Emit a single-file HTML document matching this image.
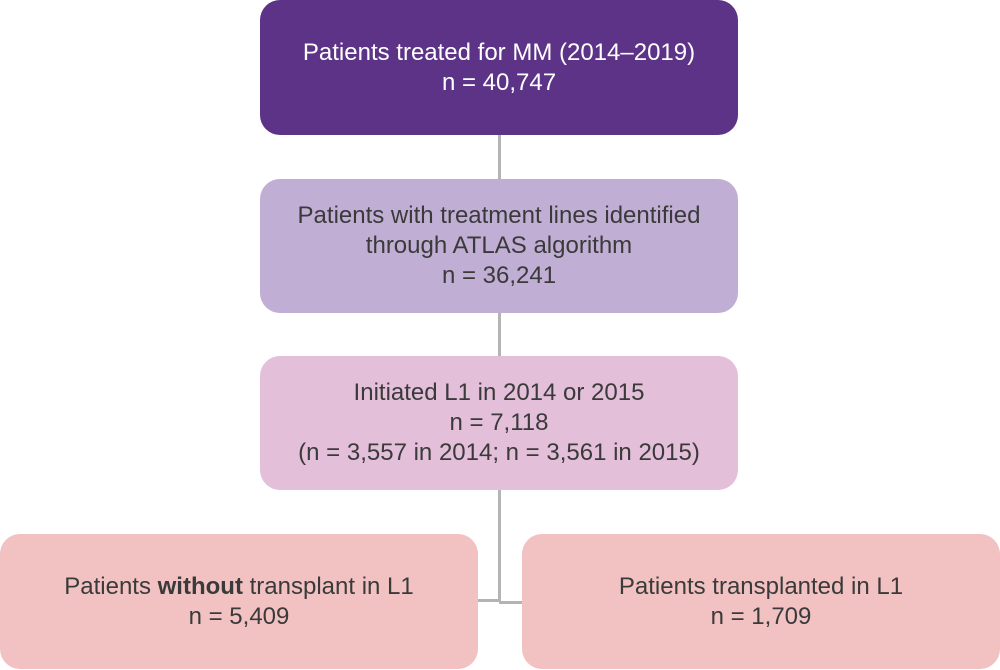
<!DOCTYPE html>
<html><head><style>
body{margin:0;width:1000px;height:670px;background:#fff;position:relative;font-family:"Liberation Sans",sans-serif;overflow:hidden}
.b{position:absolute;border-radius:20px;display:flex;align-items:center;justify-content:center;text-align:center;font-size:24px;line-height:30px;color:#3a3a3a}
.l{position:absolute;background:#b4b4b4}
</style></head><body>
<div class="l" style="left:498px;top:130px;width:3px;height:472px"></div>
<div class="l" style="left:476px;top:599px;width:25px;height:3px"></div>
<div class="l" style="left:499px;top:601px;width:25px;height:3px"></div>
<div class="b" style="left:260px;top:0;width:478px;height:135px;background:#5c3386;color:#fff"><div>Patients treated for MM (2014–2019)<br>n = 40,747</div></div>
<div class="b" style="left:260px;top:179px;width:478px;height:134px;background:#c0aed4"><div>Patients with treatment lines identified<br>through ATLAS algorithm<br>n = 36,241</div></div>
<div class="b" style="left:260px;top:356px;width:478px;height:134px;background:#e4bfda"><div>Initiated L1 in 2014 or 2015<br>n = 7,118<br>(n = 3,557 in 2014; n = 3,561 in 2015)</div></div>
<div class="b" style="left:0;top:534px;width:478px;height:135px;background:#f2c2c2"><div>Patients <b>without</b> transplant in L1<br>n = 5,409</div></div>
<div class="b" style="left:522px;top:534px;width:478px;height:135px;background:#f2c2c2"><div>Patients transplanted in L1<br>n = 1,709</div></div>
</body></html>
